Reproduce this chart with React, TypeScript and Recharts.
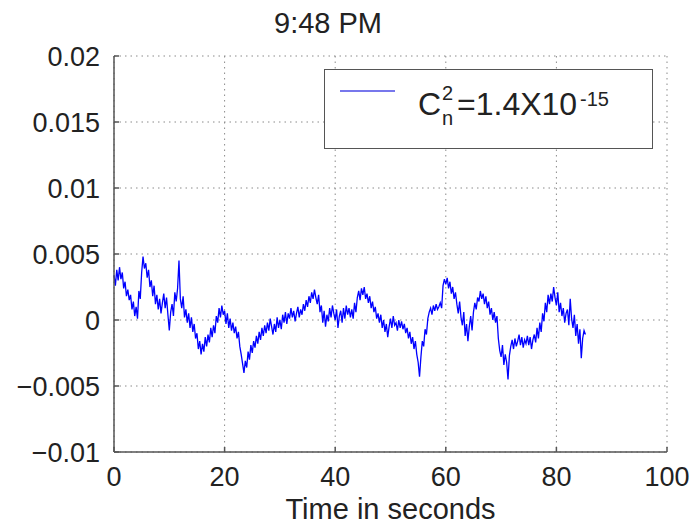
import React from "react";
import {
  LineChart,
  Line,
  XAxis,
  YAxis,
  CartesianGrid,
  Legend,
} from "recharts";

const TITLE = "9:48 PM";
const X_LABEL = "Time in seconds";
const X_TICKS = [0, 20, 40, 60, 80, 100];
const Y_TICKS = [-0.01, -0.005, 0, 0.005, 0.01, 0.015, 0.02];
const Y_TICK_LABELS = ["−0.01", "−0.005", "0", "0.005", "0.01", "0.015", "0.02"];
const SAMPLE_STEP = 0.25; // seconds between samples

// signal, 4 samples per second (one line = 2 seconds)
const signal = [
  0.0034, 0.0026, 0.0038, 0.003, 0.004, 0.0031, 0.0036, 0.0024,
  0.0029, 0.0018, 0.0023, 0.0015, 0.0019, 0.0008, 0.0014, 0.0003,
  0.001, 0.0001, 0.0022, 0.0016, 0.0036, 0.0048, 0.0039, 0.0043,
  0.0032, 0.0038, 0.0025, 0.003, 0.0018, 0.0026, 0.0012, 0.0019,
  0.0008, 0.0016, 0.0005, 0.0013, 0.002, 0.0009, 0.0017, 0.0004,
  -0.0008, 0.0006, 0.0012, 0.0003, 0.0021, 0.0014, 0.0024, 0.0045,
  0.0016, 0.0009, 0.0018, 0.0002, 0.0008, -0.0002, 0.0005, -0.0006,
  0.0002, -0.0009, -0.0003, -0.0014, -0.001, -0.0022, -0.0016, -0.0026,
  -0.0018, -0.0024, -0.0013, -0.002, -0.0011, -0.0017, -0.0006, -0.0013,
  -0.0004, -0.001, 0.0003, -0.0002, 0.0009, 0.0002, 0.0011, 0.0004,
  0.0007, -0.0003, 0.0005, -0.0006, 0.0001, -0.0008, -0.0002, -0.001,
  -0.0005, -0.0014, -0.0009, -0.002, -0.0026, -0.0033, -0.004, -0.0031,
  -0.0036, -0.0024, -0.003, -0.0019, -0.0025, -0.0016, -0.0021, -0.0012,
  -0.0018, -0.0009, -0.0015, -0.0006, -0.0012, -0.0004, -0.001, -0.0002,
  -0.0008, 0.0001, -0.0005, -0.0011, -0.0003, -0.0009, 0.0002, -0.0006,
  0.0, -0.0007, 0.0004, -0.0002, 0.0006, -0.0003, 0.0005, 0.0001,
  0.0009, 0.0002, 0.0007, -0.0001, 0.0005, 0.001, 0.0002, 0.0008,
  0.0004, 0.0012, 0.0007, 0.0015, 0.001, 0.0018, 0.0013, 0.0021,
  0.0016, 0.0023, 0.0017, 0.0012, 0.0019, 0.0006, 0.0011, -0.0002,
  0.0007, -0.0005, 0.0004, -0.0001, 0.0009, 0.0002, 0.0011, 0.0005,
  0.0, 0.0008, -0.0006, 0.0003, 0.0007, -0.0002, 0.0009, 0.0001,
  0.0011, 0.0004, 0.0009, 0.0002, 0.0008, 0.0001, 0.0013, 0.0006,
  0.0017, 0.0022, 0.0015, 0.0024, 0.0019, 0.0025, 0.0016, 0.002,
  0.0013, 0.0018, 0.0009, 0.0014, 0.0006, 0.001, 0.0001, 0.0005,
  -0.0002, 0.0004, -0.0006, 0.0, -0.0009, -0.0003, -0.0013, -0.0005,
  0.0001, -0.0006, 0.0003, -0.0004, -0.0002, -0.0008, 0.0, -0.0006,
  -0.0001, -0.0007, -0.0003, -0.001, -0.0006, -0.0014, -0.0009, -0.0018,
  -0.0013, -0.0022, -0.0016, -0.0026, -0.0032, -0.0043, -0.0028, -0.0016,
  -0.002, -0.0007, -0.0011, 0.0001, 0.0006, 0.0009, 0.0004, 0.0011,
  0.0007, 0.0012, 0.0008, 0.001, 0.0013, 0.0009, 0.0026, 0.0031,
  0.0027, 0.0032, 0.0024, 0.0029, 0.002, 0.0025, 0.0016, 0.0021,
  0.0012, 0.0005, 0.0014, 0.0002, -0.0004, 0.0006, -0.0012, -0.0003,
  -0.0016, -0.0005, 0.0003, -0.0008, 0.0006, 0.0013, 0.0008, 0.0017,
  0.0014, 0.0022, 0.0016, 0.002, 0.0012, 0.0018, 0.0009, 0.0014,
  0.0004, 0.0009, 0.0, 0.0006, -0.0002, 0.0003, -0.0014, -0.0023,
  -0.0028, -0.0019, -0.0034, -0.0026, -0.0032, -0.0045, -0.0027, -0.002,
  -0.0015, -0.0022, -0.0014, -0.002, -0.0016, -0.0011, -0.0019, -0.0013,
  -0.0021, -0.0015, -0.0018, -0.0012, -0.0019, -0.0013, -0.0022, -0.0015,
  -0.0011, -0.0017, -0.0006, -0.0014, -0.0002, -0.0009, 0.0005, -0.0001,
  0.0013, 0.0006, 0.0019, 0.0012, 0.002, 0.0014, 0.0025, 0.0017,
  0.0011, 0.0021, 0.0006, 0.0013, 0.0003, 0.0009, -0.0002, 0.0005,
  0.0008, -0.0004, 0.0016, 0.0001, -0.0006, 0.0004, -0.0012, -0.0003,
  -0.0018, -0.0007, -0.0029, -0.0014, -0.0008, -0.0011,
];

const data = signal.map((v, i) => ({ t: i * SAMPLE_STEP, v }));

const FONT = '"Liberation Sans", Arial, Helvetica, sans-serif';
const TEXT = "#222";
const AXIS = "#555";

const LegendBox = () => (
  <svg width={329} height={80} style={{ display: "block" }}>
    <rect x={0.5} y={0.5} width={328} height={79} fill="#fff" stroke={AXIS} />
    <line x1={16} x2={71} y1={22} y2={22} stroke="#4a4ae6" strokeWidth={1.5} />
    <text fill={TEXT} fontFamily={FONT}>
      <tspan x={94} y={46} fontSize={32}>C</tspan>
      <tspan x={118} y={56} fontSize={20}>n</tspan>
      <tspan x={118} y={31} fontSize={20}>2</tspan>
      <tspan x={133} y={46} fontSize={32}>=1.4X10</tspan>
      <tspan x={256} y={37} fontSize={20}>-15</tspan>
    </text>
  </svg>
);

export default function App() {
  return (
    <div
      style={{
        position: "absolute",
        left: 0,
        top: 0,
        width: 694,
        height: 524,
        background: "#fff",
        fontFamily: FONT,
      }}
    >
      <LineChart
        width={694}
        height={524}
        data={data}
        margin={{ top: 56, right: 27, bottom: 0, left: 0 }}
      >
        <CartesianGrid stroke="#8a8a8a" strokeDasharray="1.5 4" />
        <XAxis
          dataKey="t"
          type="number"
          domain={[0, 100]}
          ticks={X_TICKS}
          interval={0}
          height={72}
          tickSize={-5}
          tickMargin={20}
          stroke={AXIS}
          strokeWidth={1.5}
          tick={{ fill: TEXT, fontSize: 27 }}
          label={{
            value: X_LABEL,
            position: "insideBottom",
            offset: 5,
            fill: TEXT,
            fontSize: 29,
          }}
        />
        <XAxis
          xAxisId="top"
          orientation="top"
          type="number"
          domain={[0, 100]}
          ticks={X_TICKS}
          height={0}
          tickSize={-5}
          tick={false}
          stroke={AXIS}
          strokeWidth={1.5}
        />
        <YAxis
          type="number"
          domain={[-0.01, 0.02]}
          ticks={Y_TICKS}
          interval={0}
          width={114}
          tickSize={-5}
          tickMargin={19}
          stroke={AXIS}
          strokeWidth={1.5}
          tick={{ fill: TEXT, fontSize: 27 }}
          tickFormatter={(v: number) => Y_TICK_LABELS[Y_TICKS.indexOf(v)] ?? String(v)}
        />
        <YAxis
          yAxisId="right"
          orientation="right"
          type="number"
          domain={[-0.01, 0.02]}
          ticks={Y_TICKS}
          width={0}
          tickSize={-5}
          tick={false}
          stroke={AXIS}
          strokeWidth={1.5}
        />
        <Legend
          layout="horizontal"
          verticalAlign="middle"
          align="center"
          wrapperStyle={{ left: 324, top: 69, width: 329, height: 80 }}
          content={() => <LegendBox />}
        />
        <Line
          dataKey="v"
          name="Cn2=1.4X10-15"
          type="linear"
          stroke="#0000ff"
          strokeWidth={1.3}
          dot={false}
          isAnimationActive={false}
        />
      </LineChart>
      <svg
        width={694}
        height={60}
        style={{ position: "absolute", left: 0, top: 0, pointerEvents: "none" }}
      >
        <text x={328} y={33} textAnchor="middle" fontSize={29} fill={TEXT} fontFamily={FONT}>
          {TITLE}
        </text>
      </svg>
    </div>
  );
}
